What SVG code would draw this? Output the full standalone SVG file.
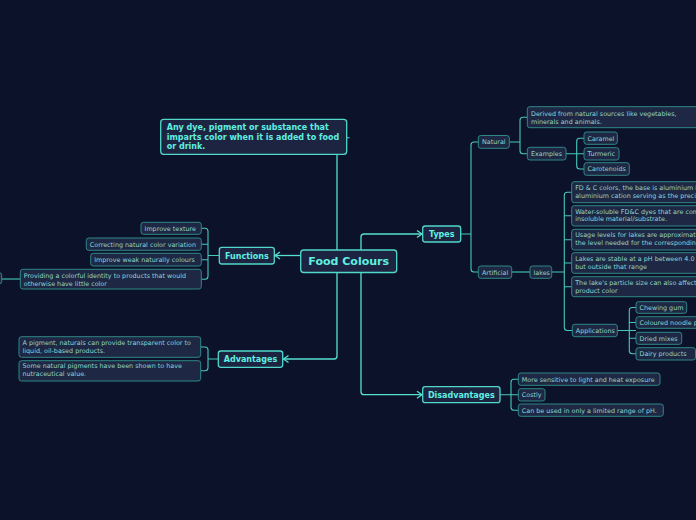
<svg xmlns="http://www.w3.org/2000/svg" width="696" height="520" viewBox="0 0 696 520">
<defs>
<marker id="arr" viewBox="-7 -5 9 10" refX="0" refY="0" markerWidth="9" markerHeight="10" markerUnits="userSpaceOnUse" orient="auto">
<path d="M-5,-3.5 L0,0 L-5,3.5" fill="none" stroke="#56e0d0" stroke-width="1.3"/>
</marker>
<style>
.mn rect{fill:#1d2441;stroke:#50d8c9;stroke-width:1.3}
.sn rect{fill:#1e2743;stroke:#2f8886;stroke-width:1}
.mt{font-family:"DejaVu Sans",Verdana,sans-serif;font-weight:bold;font-size:8px;fill:#5ff0e0}
.st{font-family:"DejaVu Sans",Verdana,sans-serif;font-size:6.4px;fill:#8fd6cf}
.c{fill:none;stroke:#56e0d0;stroke-width:1.3}
.cs{fill:none;stroke:#48c8ba;stroke-width:1.1}
</style>
</defs>
<rect x="0" y="0" width="696" height="520" fill="#0b1229"/>
<g id="connectors">
<path class="c" d="M337,250 V154.3"/>
<path class="c" d="M361,250 V237 Q361,234 364,234 H422" marker-end="url(#arr)"/>
<path class="c" d="M300.7,255.5 H275" marker-end="url(#arr)"/>
<path class="c" d="M337,272.7 V356 Q337,359 334,359 H283.5" marker-end="url(#arr)"/>
<path class="c" d="M361,272.7 V391.7 Q361,394.7 364,394.7 H422" marker-end="url(#arr)"/>
<path class="cs" d="M347,137.7 H349.5"/>
<path class="cs" d="M219,255.5 H208 M201.3,228.3 H205 Q208,228.3 208,231.3 V276.2 Q208,279.2 205,279.2 H201.3 M208,244.2 H201.3 M208,259.7 H201.3"/>
<path class="cs" d="M20.3,279 H2"/>
<path class="cs" d="M218,359 H208 M200.7,347 H205 Q208,347 208,350 V367.8 Q208,370.8 205,370.8 H200.7"/>
<path class="cs" d="M460.7,234 H471 M478.3,142 H474 Q471,142 471,145 V269 Q471,272 474,272 H478.3"/>
<path class="cs" d="M509.3,142 H520 M527.3,117.2 H523 Q520,117.2 520,120.2 V150.7 Q520,153.7 523,153.7 H527.3"/>
<path class="cs" d="M566,153.7 H584 M584,138.2 H579.7 Q576.7,138.2 576.7,141.2 V166 Q576.7,169 579.7,169 H584"/>
<path class="cs" d="M511.7,272 H530"/>
<path class="cs" d="M551.7,272 H564.3 M571.7,192.2 H567.3 Q564.3,192.2 564.3,195.2 V327.5 Q564.3,330.5 567.3,330.5 H572.3 M564.3,215.8 H571.7 M564.3,239.7 H571.7 M564.3,263 H571.7 M564.3,286.7 H571.7"/>
<path class="cs" d="M617.3,330.5 H636 M636,307.5 H632.3 Q629.3,307.5 629.3,310.5 V350.8 Q629.3,353.8 632.3,353.8 H636 M629.3,322.5 H636 M629.3,338.3 H636"/>
<path class="cs" d="M500,394.7 H518.3 M518.3,379.2 H514 Q511,379.2 511,382.2 V407.3 Q511,410.3 514,410.3 H518.3"/>
</g>
<g id="food-colours" class="mn"><rect x="300.7" y="250" width="96" height="22.5" rx="3"/><text class="mt" x="348.7" y="265" text-anchor="middle" style="font-size:11px">Food Colours</text></g>
<g id="definition" class="mn"><rect x="160.7" y="119.3" width="186" height="35" rx="3"/>
<text class="mt" x="166.7" y="130">Any dye, pigment or substance that</text>
<text class="mt" x="166.7" y="139.5">imparts color when it is added to food</text>
<text class="mt" x="166.7" y="149">or drink.</text></g>
<g id="functions" class="mn"><rect x="219.3" y="247.3" width="55" height="16.7" rx="2.5"/><text class="mt" x="246.8" y="258.5" text-anchor="middle">Functions</text></g>
<g id="types" class="mn"><rect x="422.7" y="226" width="38" height="16" rx="2.5"/><text class="mt" x="441.7" y="237" text-anchor="middle">Types</text></g>
<g id="advantages" class="mn"><rect x="218.3" y="351" width="64.4" height="16.3" rx="2.5"/><text class="mt" x="250.5" y="362" text-anchor="middle">Advantages</text></g>
<g id="disadvantages" class="mn"><rect x="422.7" y="386.7" width="77.3" height="16" rx="2.5"/><text class="mt" x="461.3" y="397.7" text-anchor="middle">Disadvantages</text></g>

<g id="improve-texture" class="sn"><rect x="141" y="222.3" width="60.3" height="12" rx="2.5"/><text class="st" x="144.5" y="230.6">Improve texture</text></g>
<g id="correcting" class="sn"><rect x="86.3" y="238" width="115" height="12.3" rx="2.5"/><text class="st" x="89.8" y="246.5">Correcting natural color variation</text></g>
<g id="improve-weak" class="sn"><rect x="90.7" y="253.3" width="110.6" height="12.7" rx="2.5"/><text class="st" x="94.2" y="262">Improve weak naturally colours</text></g>
<g id="providing" class="sn"><rect x="20.3" y="269.3" width="181" height="19.7" rx="2.5"/><text class="st" x="23.8" y="278">Providing a colorful identity to products that would</text><text class="st" x="23.8" y="286">otherwise have little color</text></g>
<g id="offscreen-node" class="sn"><rect x="-60" y="272.7" width="61.7" height="11.3" rx="2.5"/></g>

<g id="adv-transparent" class="sn"><rect x="19" y="336.7" width="181.7" height="20.6" rx="2.5"/><text class="st" x="22.5" y="345">A pigment, naturals can provide transparent color to</text><text class="st" x="22.5" y="353.3">liquid, oil-based products.</text></g>
<g id="adv-nutraceutical" class="sn"><rect x="19" y="360.7" width="181.7" height="20.3" rx="2.5"/><text class="st" x="22.5" y="368">Some natural pigments have been shown to have</text><text class="st" x="22.5" y="376">nutraceutical value.</text></g>

<g id="natural" class="sn"><rect x="478.3" y="135.5" width="31" height="12.8" rx="2.5"/><text class="st" x="482" y="144.3">Natural</text></g>
<g id="artificial" class="sn"><rect x="478.3" y="266" width="33.4" height="12.3" rx="2.5"/><text class="st" x="482" y="274.5">Artificial</text></g>
<g id="derived" class="sn"><rect x="527.3" y="106.7" width="175" height="21" rx="2.5"/><text class="st" x="531" y="116">Derived from natural sources like vegetables,</text><text class="st" x="531" y="124">minerals and animals.</text></g>
<g id="examples" class="sn"><rect x="527.3" y="147.3" width="38.7" height="12.7" rx="2.5"/><text class="st" x="531" y="156">Examples</text></g>
<g id="caramel" class="sn"><rect x="584" y="132" width="33.3" height="12.3" rx="2.5"/><text class="st" x="587.5" y="140.5">Caramel</text></g>
<g id="turmeric" class="sn"><rect x="584" y="147.7" width="35" height="12.3" rx="2.5"/><text class="st" x="587.5" y="156.1">Turmeric</text></g>
<g id="carotenoids" class="sn"><rect x="584" y="162.7" width="45.3" height="12.6" rx="2.5"/><text class="st" x="587.5" y="171.3">Carotenoids</text></g>
<g id="lakes" class="sn"><rect x="530" y="266" width="21.7" height="12.3" rx="2.5"/><text class="st" x="533.5" y="274.5">lakes</text></g>
<g id="lake-base" class="sn"><rect x="571.7" y="181.7" width="140" height="21" rx="2.5"/><text class="st" x="575.2" y="189.8">FD &amp; C colors, the base is aluminium hydroxide, with the</text><text class="st" x="575.2" y="197.8">aluminium cation serving as the precipitant.</text></g>
<g id="lake-water" class="sn"><rect x="571.7" y="205.7" width="140" height="20.3" rx="2.5"/><text class="st" x="575.2" y="213.5">Water-soluble FD&amp;C dyes that are combined with an</text><text class="st" x="575.2" y="221.3">insoluble material/substrate.</text></g>
<g id="lake-usage" class="sn"><rect x="571.7" y="229.3" width="140" height="20.7" rx="2.5"/><text class="st" x="575.2" y="237.3">Usage levels for lakes are approximately twice</text><text class="st" x="575.2" y="245.3">the level needed for the corresponding dye.</text></g>
<g id="lake-ph" class="sn"><rect x="571.7" y="252.7" width="140" height="20.6" rx="2.5"/><text class="st" x="575.2" y="260.7">Lakes are stable at a pH between 4.0 and 9.0,</text><text class="st" x="575.2" y="268.7">but outside that range</text></g>
<g id="lake-particle" class="sn"><rect x="571.7" y="276.7" width="140" height="20" rx="2.5"/><text class="st" x="575.2" y="284.7">The lake's particle size can also affect the final</text><text class="st" x="575.2" y="292.5">product color</text></g>
<g id="applications" class="sn"><rect x="572.3" y="324.3" width="45" height="12.4" rx="2.5"/><text class="st" x="575.8" y="332.8">Applications</text></g>
<g id="chewing-gum" class="sn"><rect x="636" y="301.7" width="50.7" height="11.6" rx="2.5"/><text class="st" x="639.5" y="309.8">Chewing gum</text></g>
<g id="noodle" class="sn"><rect x="636" y="316.7" width="80" height="11.6" rx="2.5"/><text class="st" x="639.5" y="324.8">Coloured noodle products</text></g>
<g id="dried-mixes" class="sn"><rect x="636" y="332.3" width="45.7" height="12" rx="2.5"/><text class="st" x="639.5" y="340.6">Dried mixes</text></g>
<g id="dairy" class="sn"><rect x="636" y="347.7" width="59.5" height="12.3" rx="2.5"/><text class="st" x="639.5" y="356.2">Dairy products</text></g>

<g id="sensitive" class="sn"><rect x="518.3" y="373" width="141.7" height="12.3" rx="2.5"/><text class="st" x="521.8" y="381.5">More sensitive to light and heat exposure</text></g>
<g id="costly" class="sn"><rect x="518.3" y="388.7" width="26.7" height="12.3" rx="2.5"/><text class="st" x="521.8" y="397.2">Costly</text></g>
<g id="limited-ph" class="sn"><rect x="518.3" y="404" width="145" height="12.3" rx="2.5"/><text class="st" x="521.8" y="412.5">Can be used in only a limited range of pH.</text></g>
</svg>
